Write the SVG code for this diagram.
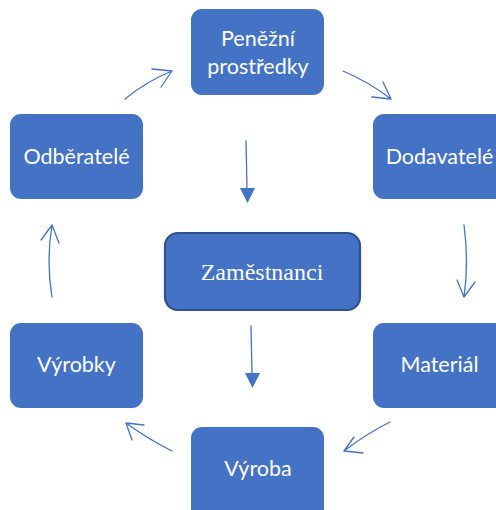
<svg xmlns="http://www.w3.org/2000/svg" width="496" height="510" viewBox="0 0 496 510">
<defs>
<style>
.box{fill:#4472C4;}
.lbl{fill:#fff;font-family:Lato,"Open Sans",sans-serif;font-size:21.5px;text-anchor:middle;}
.ser{fill:#fff;font-family:"Liberation Serif","Times New Roman",serif;font-size:24px;text-anchor:middle;}
.ln{fill:none;stroke:#4472C4;stroke-width:1.3;stroke-linecap:round;stroke-linejoin:round;}
.tri{fill:#4472C4;}
</style>
</defs>
<rect width="496" height="510" fill="#fff"/>
<g id="penezni">
<rect class="box" x="191" y="9" width="133" height="86" rx="11"/>
<text class="lbl" x="258" y="46">Peněžní</text>
<text class="lbl" x="258" y="74">prostředky</text>
</g>
<g id="odberatele">
<rect class="box" x="10" y="114" width="133" height="85" rx="11"/>
<text class="lbl" x="76.5" y="164">Odběratelé</text>
</g>
<g id="dodavatele">
<rect class="box" x="373" y="114" width="133" height="85" rx="11"/>
<text class="lbl" x="439.5" y="164">Dodavatelé</text>
</g>
<g id="zamestnanci">
<rect class="box" x="165" y="233" width="195" height="77" rx="13" stroke="#2F528F" stroke-width="2.2"/>
<text class="ser" x="262" y="280">Zaměstnanci</text>
</g>
<g id="vyrobky">
<rect class="box" x="10" y="323" width="133" height="85" rx="11"/>
<text class="lbl" x="76.5" y="372">Výrobky</text>
</g>
<g id="material">
<rect class="box" x="373" y="323" width="133" height="85" rx="11"/>
<text class="lbl" x="439.5" y="372">Materiál</text>
</g>
<g id="vyroba">
<rect class="box" x="191" y="427" width="133" height="95" rx="11"/>
<text class="lbl" x="258" y="476">Výroba</text>
</g>
<g id="connectors">
<path class="ln" d="M125,99 Q147,81 172,71 M152,69 L172,71 L161,87"/>
<path class="ln" d="M343,71 Q369,82 391,99 M372,97 L391,99 L383,82"/>
<path class="ln" d="M464,225 Q469,262 464,297 M457,280 L464,297 L475,282"/>
<path class="ln" d="M390,422 Q366,434 344,451 M354,437 L344,451 L363,453"/>
<path class="ln" d="M172,451 Q148,439 126,423 M144,425 L126,423 L132,440"/>
<path class="ln" d="M52,297 Q46,261 52,225 M41,240 L52,225 L59,243"/>
<path class="ln" d="M246,141 L247,189"/>
<polygon class="tri" points="240,188 255,188 247.5,203"/>
<path class="ln" d="M251,326 L252,374"/>
<polygon class="tri" points="245,373 260,373 252.5,388"/>
</g>
</svg>
